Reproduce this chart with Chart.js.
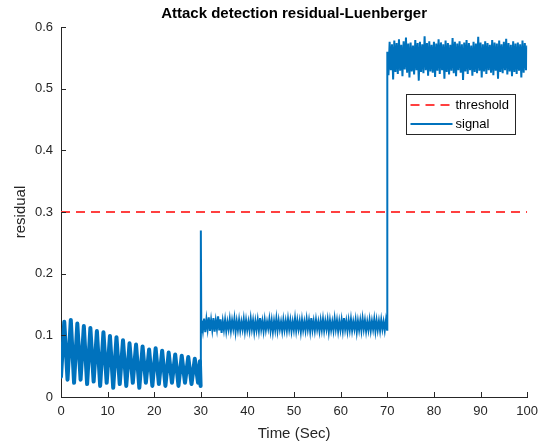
<!DOCTYPE html>
<html>
<head>
<meta charset="utf-8">
<script src="https://cdn.jsdelivr.net/npm/chart.js@4.4.1/dist/chart.umd.min.js"></script>
<style>
  html, body { margin: 0; padding: 0; background: #fff; }
  #wrap { width: 545px; height: 445px; }
</style>
</head>
<body>
<div id="wrap"><canvas id="c" width="545" height="445"></canvas></div>
<script>
// ---------- data ----------
const chartTitle = 'Attack detection residual-Luenberger';
const xAxisTitle = 'Time (Sec)';
const yAxisTitle = 'residual';
const xTickValues = [0, 10, 20, 30, 40, 50, 60, 70, 80, 90, 100];
const xTickLabels = ['0', '10', '20', '30', '40', '50', '60', '70', '80', '90', '100'];
const yTickValues = [0, 0.1, 0.2, 0.3, 0.4, 0.5, 0.6];
const yTickLabels = ['0', '0.1', '0.2', '0.3', '0.4', '0.5', '0.6'];

const thresholdValue = 0.3;
const thresholdTimes = [0, 100];

// segment 1: decaying oscillation, samples every 0.7 s starting at t = 0
const seg1Start = 0, seg1Step = 0.7;
const seg1Values = [0.033, 0.122, 0.028, 0.125, 0.023, 0.119, 0.028, 0.115, 0.021, 0.112,
  0.025, 0.107, 0.018, 0.105, 0.023, 0.099, 0.015, 0.097, 0.021, 0.092,
  0.018, 0.087, 0.023, 0.085, 0.015, 0.082, 0.023, 0.077, 0.018, 0.079,
  0.021, 0.075, 0.018, 0.072, 0.023, 0.069, 0.018, 0.067, 0.023, 0.065,
  0.021, 0.062, 0.023];

// attack onset at t = 30 s (spike)
const spikeTimes = [29.8, 29.95, 30.0, 30.1];
const spikeValues = [0.058, 0.018, 0.27, 0.105];

// segment 2: noisy plateau 30-70 s, samples every 0.25 s starting at 30.2 s
const seg2Start = 30.2, seg2Step = 0.25;
const seg2Values = [
  0.124, 0.108, 0.127, 0.105, 0.126, 0.11, 0.129, 0.107, 0.125, 0.109,
  0.128, 0.106, 0.124, 0.11, 0.131, 0.108, 0.126, 0.104, 0.123, 0.109,
  0.125, 0.107, 0.122, 0.11, 0.126, 0.108, 0.124, 0.111, 0.127, 0.106,
  0.123, 0.109, 0.125, 0.108, 0.122, 0.11, 0.126, 0.107, 0.124, 0.109,
  0.122, 0.108, 0.127, 0.11, 0.124, 0.106, 0.123, 0.109, 0.125, 0.108,
  0.128, 0.11, 0.123, 0.107, 0.125, 0.109, 0.122, 0.111, 0.126, 0.108,
  0.124, 0.106, 0.123, 0.109, 0.127, 0.108, 0.124, 0.11, 0.122, 0.107,
  0.125, 0.109, 0.123, 0.108, 0.126, 0.11, 0.124, 0.107, 0.122, 0.109,
  0.127, 0.108, 0.124, 0.11, 0.123, 0.106, 0.125, 0.109, 0.122, 0.108,
  0.126, 0.11, 0.124, 0.107, 0.128, 0.109, 0.123, 0.108, 0.125, 0.11,
  0.122, 0.107, 0.124, 0.109, 0.126, 0.108, 0.123, 0.11, 0.125, 0.106,
  0.124, 0.109, 0.122, 0.108, 0.127, 0.11, 0.124, 0.107, 0.123, 0.109,
  0.125, 0.108, 0.128, 0.11, 0.123, 0.107, 0.124, 0.109, 0.126, 0.108,
  0.122, 0.11, 0.125, 0.106, 0.123, 0.109, 0.124, 0.108, 0.127, 0.11,
  0.124, 0.107, 0.122, 0.109, 0.125, 0.108, 0.123, 0.11, 0.126, 0.107,
  0.124, 0.109, 0.123, 0.108, 0.125, 0.11, 0.122, 0.108, 0.124, 0.109];

// segment 3: high plateau 70-100 s, samples every 0.25 s starting at 70 s
const seg3Start = 70, seg3Step = 0.25;
const seg3Values = [
  0.56, 0.522, 0.576, 0.53, 0.572, 0.515, 0.578, 0.527, 0.574, 0.524,
  0.58, 0.529, 0.571, 0.52, 0.577, 0.531, 0.583, 0.526, 0.573, 0.518,
  0.575, 0.528, 0.57, 0.523, 0.579, 0.53, 0.574, 0.513, 0.576, 0.527,
  0.572, 0.525, 0.585, 0.53, 0.574, 0.521, 0.577, 0.528, 0.571, 0.526,
  0.576, 0.519, 0.573, 0.529, 0.58, 0.524, 0.575, 0.53, 0.572, 0.516,
  0.578, 0.527, 0.574, 0.523, 0.571, 0.529, 0.582, 0.525, 0.576, 0.52,
  0.573, 0.53, 0.577, 0.526, 0.572, 0.514, 0.575, 0.528, 0.579, 0.524,
  0.574, 0.53, 0.57, 0.521, 0.576, 0.527, 0.573, 0.525, 0.584, 0.529,
  0.575, 0.518, 0.572, 0.528, 0.577, 0.524, 0.574, 0.53, 0.571, 0.526,
  0.579, 0.522, 0.575, 0.529, 0.573, 0.516, 0.578, 0.527, 0.572, 0.525,
  0.576, 0.53, 0.581, 0.523, 0.574, 0.528, 0.571, 0.52, 0.577, 0.527,
  0.573, 0.524, 0.575, 0.529, 0.572, 0.518, 0.578, 0.526, 0.574, 0.53,
  0.57];

// ---------- build point lists ----------
function segPoints(start, step, vals) {
  return vals.map((v, i) => ({ x: +(start + i * step).toFixed(3), y: v }));
}
const signalPointsPre = segPoints(seg1Start, seg1Step, seg1Values)
  .concat(spikeTimes.slice(0, 2).map((t, i) => ({ x: t, y: spikeValues[i] })));
const signalPointsPost = spikeTimes.slice(1).map((t, i) => ({ x: t, y: spikeValues[i + 1] }))
  .concat(segPoints(seg2Start, seg2Step, seg2Values))
  .concat(segPoints(seg3Start, seg3Step, seg3Values));
const thresholdPoints = thresholdTimes.map(t => ({ x: t, y: thresholdValue }));

const FONT = "'Liberation Sans', Arial, Helvetica, sans-serif";
const AXIS_COLOR = '#262626';
const BLUE = '#0072BD';
const RED = 'rgb(255,64,64)';

// inside tick marks (MATLAB style)
const insideTicks = {
  id: 'insideTicks',
  afterDatasetsDraw(chart) {
    const { ctx, chartArea: a, scales: { x, y } } = chart;
    ctx.save();
    ctx.strokeStyle = AXIS_COLOR;
    ctx.lineWidth = 1;
    ctx.beginPath();
    xTickValues.forEach(v => {
      const px = Math.round(x.getPixelForValue(v)) + 0.5;
      ctx.moveTo(px, a.bottom);
      ctx.lineTo(px, a.bottom - 5);
    });
    yTickValues.forEach(v => {
      const py = Math.round(y.getPixelForValue(v)) + 0.5;
      ctx.moveTo(a.left, py);
      ctx.lineTo(a.left + 5, py);
    });
    ctx.stroke();
    ctx.restore();
  }
};

// legend box inside axes
const boxLegend = {
  id: 'boxLegend',
  afterDraw(chart) {
    const { ctx } = chart;
    const bx = 406.5, by = 94.5, bw = 109, bh = 40;
    ctx.save();
    ctx.fillStyle = '#fff';
    ctx.fillRect(bx, by, bw, bh);
    ctx.strokeStyle = AXIS_COLOR;
    ctx.lineWidth = 1;
    ctx.strokeRect(bx, by, bw, bh);
    const rows = chart.data.datasets.filter(ds => ds.showInLegend);
    rows.forEach((ds, i) => {
      const yy = by + 10.5 + i * 19;
      ctx.beginPath();
      ctx.strokeStyle = ds.borderColor;
      ctx.lineWidth = 2;
      ctx.setLineDash(ds.borderDash || []);
      ctx.moveTo(bx + 4, yy);
      ctx.lineTo(bx + 46, yy);
      ctx.stroke();
      ctx.setLineDash([]);
      ctx.fillStyle = '#000';
      ctx.font = '13px ' + FONT;
      ctx.textAlign = 'left';
      ctx.textBaseline = 'middle';
      ctx.fillText(ds.label, bx + 49, yy);
    });
    ctx.restore();
  }
};

new Chart(document.getElementById('c'), {
  type: 'line',
  data: {
    datasets: [
      {
        label: 'threshold',
        showInLegend: true,
        data: thresholdPoints,
        borderColor: RED,
        borderWidth: 2,
        borderDash: [9, 6],
        pointRadius: 0,
        fill: false,
        order: 2
      },
      {
        label: 'signal',
        showInLegend: true,
        data: signalPointsPost,
        borderColor: BLUE,
        borderWidth: 2,
        pointRadius: 0,
        tension: 0,
        fill: false,
        order: 0
      },
      {
        label: 'signal',
        showInLegend: false,
        data: signalPointsPre,
        borderColor: BLUE,
        borderWidth: 4,
        borderJoinStyle: 'round',
        borderCapStyle: 'round',
        pointRadius: 0,
        tension: 0,
        fill: false,
        order: 1
      }
    ]
  },
  options: {
    responsive: false,
    animation: false,
    events: [],
    layout: { padding: { left: 0, right: 15, top: 0, bottom: 0 } },
    plugins: {
      legend: { display: false },
      tooltip: { enabled: false },
      title: {
        display: true,
        fullSize: false,
        text: chartTitle,
        color: '#000',
        font: { family: FONT, size: 15, weight: 'bold' },
        padding: { top: 5, bottom: 4 }
      }
    },
    scales: {
      x: {
        type: 'linear',
        min: 0, max: 100,
        afterFit(s) { s.height = 48; },
        afterBuildTicks(s) { s.ticks = xTickValues.map(v => ({ value: v })); },
        grid: { display: false, drawTicks: false },
        border: { display: true, color: AXIS_COLOR, width: 1 },
        ticks: {
          padding: 7,
          color: AXIS_COLOR,
          font: { family: FONT, size: 13 },
          maxRotation: 0,
          autoSkip: false,
          callback(v) { const i = xTickValues.indexOf(v); return i >= 0 ? xTickLabels[i] : ''; }
        },
        title: {
          display: true,
          text: xAxisTitle,
          color: AXIS_COLOR,
          font: { family: FONT, size: 15 },
          padding: { top: 0, bottom: 2 }
        }
      },
      y: {
        type: 'linear',
        min: 0, max: 0.6,
        afterFit(s) { s.width = 61; },
        afterBuildTicks(s) { s.ticks = yTickValues.map(v => ({ value: v })); },
        grid: { display: false, drawTicks: false },
        border: { display: true, color: AXIS_COLOR, width: 1 },
        ticks: {
          padding: 8,
          color: AXIS_COLOR,
          font: { family: FONT, size: 13 },
          autoSkip: false,
          callback(v) {
            const i = yTickValues.findIndex(t => Math.abs(t - v) < 1e-9);
            return i >= 0 ? yTickLabels[i] : '';
          }
        },
        title: {
          display: true,
          text: yAxisTitle,
          color: AXIS_COLOR,
          font: { family: FONT, size: 15 },
          padding: { top: 12, bottom: 0 }
        }
      }
    }
  },
  plugins: [insideTicks, boxLegend]
});
</script>
</body>
</html>
